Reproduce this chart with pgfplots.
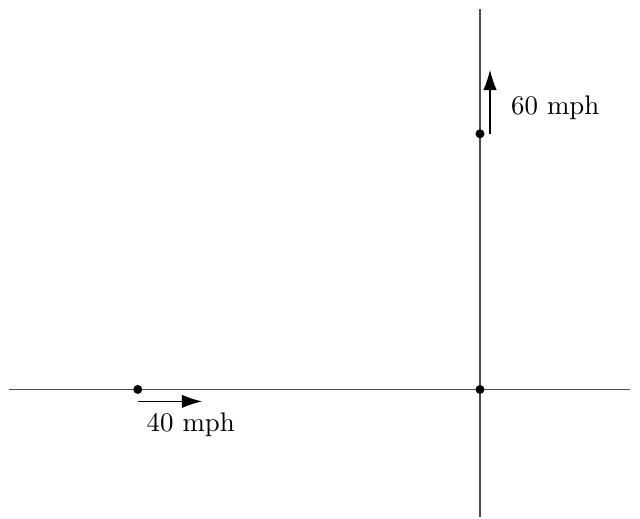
\documentclass[border=0pt]{standalone}
\usepackage{pgfplots}
\pgfplotsset{compat=1.18}
\usetikzlibrary{arrows.meta}
\begin{document}
\begin{tikzpicture}
\begin{axis}[
  scale only axis,
  width=238pt, height=193pt,
  xmin=-5.61, xmax=1.87, ymin=-1.52, ymax=4.57,
  hide axis,
  clip=false,
]
\path (axis cs:-5.61,-1.52) rectangle (axis cs:1.87,4.57);
\addplot[black!70, line width=0.4pt] coordinates {(-5.5,0) (1.75,0)};
\addplot[black!70, line width=0.4pt] coordinates {(0,-1.5) (0,4.47)};
\addplot[black, line width=0.4pt, -{Latex[length=7.5pt,width=5pt]}] coordinates {(-4,-0.14) (-3.25,-0.14)};
\addplot[black, line width=0.4pt, -{Latex[length=7.5pt,width=5pt]}] coordinates {(0.117,3) (0.117,3.75)};
\addplot[only marks, mark=*, mark size=1.45pt, black] coordinates {(-4,0) (0,0) (0,3)};
\node at (axis cs:-3.38,-0.42) {40 mph};
\node at (axis cs:0.88,3.30) {60 mph};
\end{axis}
\end{tikzpicture}
\end{document}
